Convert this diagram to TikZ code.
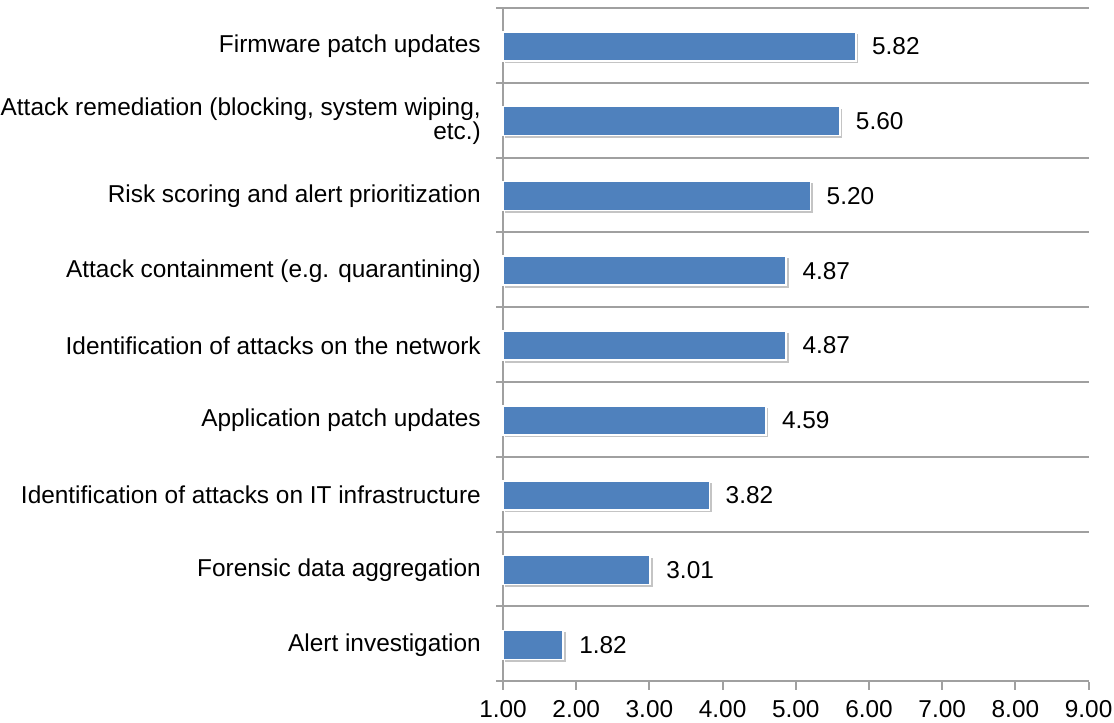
\documentclass[tikz,border=0pt]{standalone}
\usepackage{fontspec}
\setmainfont{Liberation Sans}
\definecolor{barblue}{HTML}{4F81BD}
\definecolor{gridgray}{HTML}{A0A0A0}
\definecolor{shadowgray}{HTML}{C4C4C4}
\begin{document}
\begin{tikzpicture}[x=0.75pt,y=-0.75pt,
  lbl/.style={anchor=east,inner sep=0pt,font=\fontsize{18.3}{18.3}\selectfont,align=right},
  vallbl/.style={anchor=west,inner sep=0pt,font=\fontsize{18.3}{18.3}\selectfont},
  ticklbl/.style={anchor=center,inner sep=0pt,font=\fontsize{18.3}{18.3}\selectfont},
  gridln/.style={draw=gridgray,line width=1.5pt},
  barbox/.style={fill=barblue,draw=white,line width=1.2pt},
  shadowbox/.style={fill=shadowgray,draw=none}]
\useasboundingbox (0,0) rectangle (1114,723);
% grid lines
\foreach \k in {0,...,9}{
  \draw[gridln] (496,{8+74.8*\k}) -- (1089,{8+74.8*\k});
}
% vertical axis
\draw[gridln] (503,8) -- (503,682);
% x ticks and labels
\foreach \v [count=\i from 0] in {1.00,2.00,3.00,4.00,5.00,6.00,7.00,8.00,9.00}{
  \draw[gridln] ({503+73.2*\i},682) -- ({503+73.2*\i},690);
  \node[ticklbl] (t\i) at ({503+73.2*\i},709) {\v};
}
% bars
\foreach \val/\txt [count=\i from 0] in {
  5.82/{Firmware patch updates},
  5.60/{Attack remediation (blocking, system wiping,\\etc.)},
  5.20/{Risk scoring and alert prioritization},
  4.87/{Attack containment (e.g. quarantining)},
  4.87/{Identification of attacks on the network},
  4.59/{Application patch updates},
  3.82/{Identification of attacks on IT infrastructure},
  3.01/{Forensic data aggregation},
  1.82/{Alert investigation}}{
  \pgfmathsetmacro{\yc}{8+74.8*(\i+0.5)+1}
  \pgfmathsetmacro{\xe}{503+73.2*(\val-1)}
  \fill[shadowbox] (505,{\yc-12.5}) rectangle ({\xe+2.5},{\yc+17});
  \filldraw[barbox] (503,{\yc-14.5}) rectangle (\xe,{\yc+14.5});
  \node[vallbl] (v\i) at ({\xe+16},\yc) {\val};
  \node[lbl] (l\i) at (481,{\yc}) {\txt};
}
\end{tikzpicture}
\end{document}
